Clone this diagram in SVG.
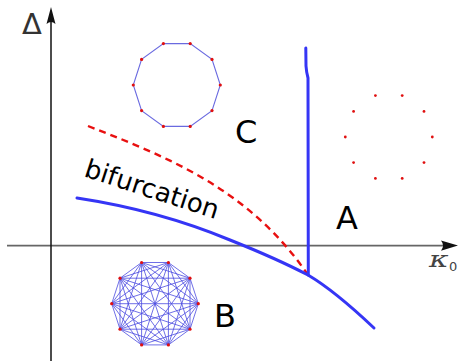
<svg xmlns="http://www.w3.org/2000/svg" width="459" height="361" viewBox="0 0 459 361">
<style>
.lbl{font-family:"DejaVu Sans","Liberation Sans",sans-serif;fill:#000}
.big{font-size:32px}
.dot{fill:#e01010}
.ring{fill:none;stroke:#6a6ae0;stroke-width:1.1}
.kg{fill:none;stroke:#4a4ae0;stroke-width:0.8;stroke-linejoin:round}
.bline{fill:none;stroke:#3535f5;stroke-width:3;stroke-linecap:round;stroke-linejoin:round}
.rdash{fill:none;stroke:#e81010;stroke-width:2.4;stroke-dasharray:7,5}
</style>
<rect width="459" height="361" fill="#fff"/>
<g id="axes">
<line x1="7" y1="245.6" x2="450" y2="245.6" stroke="#666" stroke-width="1.6"/>
<path d="M458,245.6 L441,240.5 Q445,245.6 441,250.7 Z" fill="#111"/>
<line x1="51" y1="361" x2="51" y2="16" stroke="#111" stroke-width="1.5"/>
<path d="M51,7 L55.5,24 Q51,20 46.5,24 Z" fill="#111"/>
<text x="22" y="34" class="lbl" style="font-size:29px;fill:#333">Δ</text>
<text transform="translate(429,267) scale(1.3,1)" style="font-family:'DejaVu Serif','Liberation Serif',serif;font-style:italic;font-size:23px;fill:#444">κ</text>
<text x="449" y="271" style="font-family:'DejaVu Sans','Liberation Sans',sans-serif;font-size:13px;fill:#444">0</text>
</g>
<g id="connectors">
<path class="rdash" d="M88,126 C170,158 250,190 308,275"/>
<path class="bline" d="M77,198 C110,203 170,215 230,240 C255,250 285,263 308,275 C330,288 355,310 374,328"/>
<path class="bline" d="M305.8,48 L306,66 Q306.4,72 308,78 L308.3,275"/>
</g>
<g id="node-C">
<polygon class="ring" points="220.3,85 212,59.4 190.2,43.6 163.4,43.6 141.6,59.4 133.3,85 141.6,110.6 163.4,126.4 190.2,126.4 212,110.6"/>
<g class="dot">
<circle cx="220.3" cy="85" r="1.6"/><circle cx="212" cy="59.4" r="1.6"/><circle cx="190.2" cy="43.6" r="1.6"/><circle cx="163.4" cy="43.6" r="1.6"/><circle cx="141.6" cy="59.4" r="1.6"/>
<circle cx="133.3" cy="85" r="1.6"/><circle cx="141.6" cy="110.6" r="1.6"/><circle cx="163.4" cy="126.4" r="1.6"/><circle cx="190.2" cy="126.4" r="1.6"/><circle cx="212" cy="110.6" r="1.6"/>
</g>
<text x="235" y="143" class="lbl big">C</text>
</g>
<g id="node-A">
<g class="dot">
<circle cx="432.3" cy="137" r="1.4"/><circle cx="424" cy="111.4" r="1.4"/><circle cx="402.2" cy="95.6" r="1.4"/><circle cx="375.4" cy="95.6" r="1.4"/><circle cx="353.6" cy="111.4" r="1.4"/>
<circle cx="345.3" cy="137" r="1.4"/><circle cx="353.6" cy="162.6" r="1.4"/><circle cx="375.4" cy="178.4" r="1.4"/><circle cx="402.2" cy="178.4" r="1.4"/><circle cx="424" cy="162.6" r="1.4"/>
</g>
<text x="336" y="229" class="lbl big">A</text>
</g>
<g id="node-B">
<path class="kg" d="M198.3,303.7 L190,278.2 L168.4,262.5 L141.6,262.5 L120,278.2 L111.7,303.7 L120,329.2 L141.6,344.9 L168.4,344.9 L190,329.2 Z
M198.3,303.7 L168.4,262.5 L120,278.2 L120,329.2 L168.4,344.9 Z
M190,278.2 L141.6,262.5 L111.7,303.7 L141.6,344.9 L190,329.2 Z
M198.3,303.7 L141.6,262.5 L120,329.2 L190,329.2 L168.4,262.5 L111.7,303.7 L168.4,344.9 L190,278.2 L120,278.2 L141.6,344.9 Z
M198.3,303.7 L120,278.2 L168.4,344.9 L168.4,262.5 L120,329.2 Z
M190,278.2 L111.7,303.7 L190,329.2 L141.6,262.5 L141.6,344.9 Z
M198.3,303.7 L111.7,303.7 M190,278.2 L120,329.2 M168.4,262.5 L141.6,344.9 M141.6,262.5 L168.4,344.9 M120,278.2 L190,329.2"/>
<g class="dot">
<circle cx="198.3" cy="303.7" r="1.6"/><circle cx="190" cy="278.2" r="1.6"/><circle cx="168.4" cy="262.5" r="1.6"/><circle cx="141.6" cy="262.5" r="1.6"/><circle cx="120" cy="278.2" r="1.6"/>
<circle cx="111.7" cy="303.7" r="1.6"/><circle cx="120" cy="329.2" r="1.6"/><circle cx="141.6" cy="344.9" r="1.6"/><circle cx="168.4" cy="344.9" r="1.6"/><circle cx="190" cy="329.2" r="1.6"/>
</g>
<text x="214" y="327" class="lbl big">B</text>
</g>
<g id="label-bifurcation">
<text transform="translate(83,176) rotate(18)" class="lbl" style="font-size:26px">bifurcation</text>
</g>
</svg>
